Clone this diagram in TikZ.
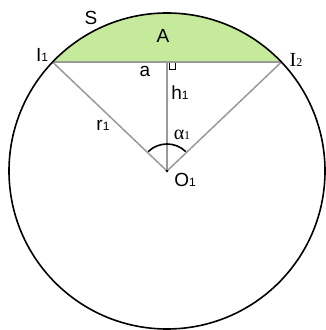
\documentclass[tikz,border=0pt]{standalone}
\usepackage{fontspec}
\setmainfont{Liberation Sans}
\newfontfamily\serifI{Liberation Serif}
\usetikzlibrary{positioning}
\definecolor{segfill}{HTML}{C5EA9B}
\definecolor{spoke}{HTML}{9A9A9A}
\newcommand{\subidx}[1]{{\fontsize{12}{12}\selectfont #1}}

\begin{document}
\begin{tikzpicture}[
  x=1pt,y=1pt,
  rim/.style={black,line width=1.6pt},
  spokeline/.style={spoke,line width=1.5pt},
  lbl/.style={inner sep=0pt,font=\fontsize{19}{22}\selectfont}
]
  \useasboundingbox (0,0) rectangle (326,330);
  \coordinate (O) at (167,159);
  \coordinate (I1) at ([shift={(136.4:158)}]O);
  \coordinate (I2) at ([shift={(43.6:158)}]O);
  \coordinate (F) at (O |- I1);

  % circular segment
  \fill[segfill] (I2) arc[start angle=43.6,end angle=136.4,radius=158] -- cycle;

  % chord, radii and height
  \draw[spokeline] (I1) -- (I2);
  \draw[spokeline] (O) -- (I1);
  \draw[spokeline] (O) -- (I2);
  \draw[spokeline] (O) -- (F);

  % right angle and central angle
  \draw[black,line width=0.8pt] ([shift={(2,-1)}]F) -- ++(0,-6) -- ++(6,0) -- ++(0,6);
  \draw[black,line width=1.6pt] ([shift={(46:27)}]O) arc[start angle=46,end angle=134,radius=27];

  \draw[rim] (O) circle[radius=158];
  \fill (O) circle[radius=1.3];

  \node[lbl] (S) at (91,312) {S};
  \node[lbl] (A) at (163,294) {A};
  \node[lbl] (lI1) at (42,275) {I\subidx{1}};
  \node[lbl,font=\fontsize{20}{22}\selectfont\serifI] (lI2) at (296,270) {I\subidx{2}};
  \node[lbl] (a) at (145,259) {a};
  \node[lbl] (h) at (180,237) {h\subidx{1}};
  \node[lbl] (r) at (103,205) {r\subidx{1}};
  \node[lbl,font=\fontsize{20}{22}\selectfont\serifI] (alpha) at (182,195) {α\subidx{1}};
  \node[lbl] (lO) at (185,150) {O\subidx{1}};
\end{tikzpicture}
\end{document}
